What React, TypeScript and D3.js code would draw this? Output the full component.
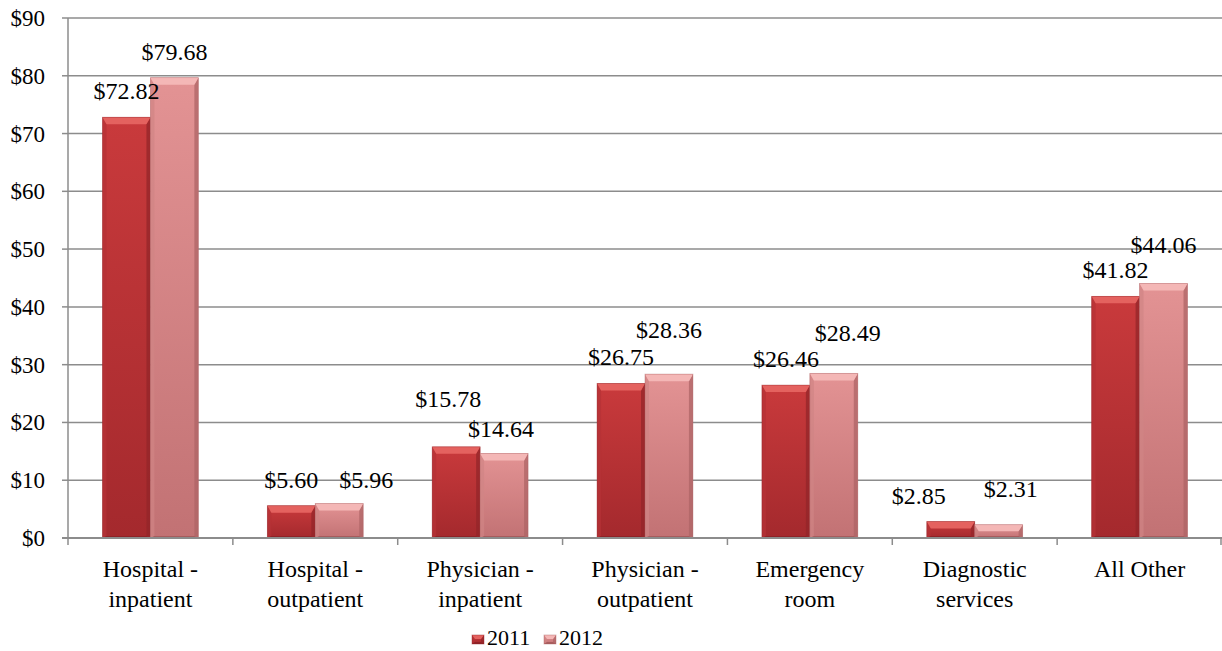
import React from "react";
import * as d3 from "d3";

const categories = [
  ["Hospital -", "inpatient"],
  ["Hospital -", "outpatient"],
  ["Physician -", "inpatient"],
  ["Physician -", "outpatient"],
  ["Emergency", "room"],
  ["Diagnostic", "services"],
  ["All Other"],
];
const series = ["2011", "2012"];
const values2011 = [72.82, 5.6, 15.78, 26.75, 26.46, 2.85, 41.82];
const values2012 = [79.68, 5.96, 14.64, 28.36, 28.49, 2.31, 44.06];
const yTicks = [0, 10, 20, 30, 40, 50, 60, 70, 80, 90];

// small manual label nudges as in the reference (style, not data)
const labelNudge: Record<string, [number, number]> = {
  "2-0": [-8, -22],
  "5-0": [-32, 0],
  "1-1": [27, 2],
  "2-1": [-3, 2],
  "3-1": [0, -18],
  "4-1": [14, -14],
  "5-1": [12, -10],
  "6-1": [0, -12],
};

const W = 1222;
const H = 651;
const left = 68;
const right = 1222;
const top = 18;
const bottom = 538;
const FONT = "Liberation Serif";

const palette = {
  "2011": { top: "#E4625F", faceTop: "#C93A3C", faceBot: "#A4292D", l: "#B53236", r: "#93252A", b: "#8A2024" },
  "2012": { top: "#F4B7B6", faceTop: "#E39394", faceBot: "#C27274", l: "#D08485", r: "#AE6466", b: "#A05658" },
};

export default function App() {
  const keys = categories.map((_, i) => String(i));
  const x0 = d3.scaleBand<string>().domain(keys).range([left, right]).padding(0);
  const x1 = d3
    .scaleBand<string>()
    .domain(series)
    .range([0, x0.bandwidth()])
    .paddingInner(0)
    .paddingOuter(0.72);
  const y = d3.scaleLinear().domain([0, 90]).range([bottom, top]);
  const fmt = (v: number) => "$" + d3.format(".2f")(v);
  const vals: Record<string, number[]> = { "2011": values2011, "2012": values2012 };
  const bev = 7;
  const pts = (arr: number[][]) => arr.map((q) => q.join(",")).join(" ");

  const bevelBox = (key: string, s: string, bx: number, by: number, bw: number, bh: number, b: number, sb: number, grad: string) => {
    const p = (palette as any)[s];
    const x2 = bx + bw;
    const y2 = by + bh;
    return (
      <g key={key}>
        <rect x={bx} y={by} width={bw} height={bh} fill={grad} />
        <polygon points={pts([[bx, by], [bx + sb, by + b], [bx + sb, y2 - 2], [bx, y2]])} fill={p.l} opacity={0.7} />
        <polygon points={pts([[x2, by], [x2 - sb, by + b], [x2 - sb, y2 - 2], [x2, y2]])} fill={p.r} opacity={0.75} />
        <polygon points={pts([[bx, y2], [bx + sb, y2 - 2], [x2 - sb, y2 - 2], [x2, y2]])} fill={p.b} opacity={0.8} />
        <polygon points={pts([[bx, by], [x2, by], [x2 - sb, by + b], [bx + sb, by + b]])} fill={p.top} />
        <rect x={bx} y={by} width={bw} height={bh} fill="none" stroke={p.r} strokeOpacity={0.5} strokeWidth={0.8} />
      </g>
    );
  };

  const bar = (s: string, i: number) => {
    const v = vals[s][i];
    const bx = (x0(String(i)) as number) + (x1(s) as number);
    const bw = x1.bandwidth();
    const by = y(v);
    const bh = bottom - by;
    const b = Math.min(bev, bh / 2, bw / 2);
    return bevelBox(s + i, s, bx, by, bw, bh, b, 4, `url(#face${s})`);
  };

  const label = (s: string, i: number) => {
    const v = vals[s][i];
    const sIdx = series.indexOf(s);
    const nudge = labelNudge[`${i}-${sIdx}`] || [0, 0];
    const cx = (x0(String(i)) as number) + (x1(s) as number) + x1.bandwidth() / 2;
    return (
      <text
        key={"l" + s + i}
        x={cx + nudge[0]}
        y={y(v) - 18 + nudge[1]}
        textAnchor="middle"
        fontSize={24}
        fontFamily={FONT}
        fill="#000"
      >
        {fmt(v)}
      </text>
    );
  };

  return (
    <svg width={W} height={H} style={{ position: "absolute", left: 0, top: 0, background: "#fff" }}>
      <defs>
        {series.map((s) => {
          const p = (palette as any)[s];
          return (
            <linearGradient key={s} id={`face${s}`} x1="0" y1="0" x2="0" y2="1">
              <stop offset="0" stopColor={p.faceTop} />
              <stop offset="1" stopColor={p.faceBot} />
            </linearGradient>
          );
        })}
      </defs>

      {/* gridlines */}
      {yTicks.map((t) => (
        <line key={"g" + t} x1={left} x2={right} y1={y(t)} y2={y(t)} stroke="#8C8C8C" strokeWidth={1.5} />
      ))}
      {/* y axis */}
      <line x1={left} x2={left} y1={top} y2={bottom} stroke="#8C8C8C" strokeWidth={1.5} />
      {yTicks.map((t) => (
        <g key={"yt" + t}>
          <line x1={left - 6} x2={left} y1={y(t)} y2={y(t)} stroke="#8C8C8C" strokeWidth={1.5} />
          <text x={45} y={y(t)} dy="0.35em" textAnchor="end" fontSize={23} fontFamily={FONT} fill="#000">
            {"$" + t}
          </text>
        </g>
      ))}

      {/* bars */}
      {categories.map((_, i) => series.map((s) => bar(s, i)))}

      {/* baseline and category ticks */}
      <line x1={left - 6} x2={right} y1={bottom} y2={bottom} stroke="#8C8C8C" strokeWidth={2} />
      {d3.range(categories.length + 1).map((k) => {
        const xx = k < categories.length ? (x0(String(k)) as number) : right - 1;
        return <line key={"ct" + k} x1={xx} x2={xx} y1={bottom} y2={bottom + 7} stroke="#8C8C8C" strokeWidth={1.5} />;
      })}

      {/* data labels */}
      {categories.map((_, i) => series.map((s) => label(s, i)))}

      {/* category labels */}
      {categories.map((lines, i) => {
        const cx = (x0(String(i)) as number) + x0.bandwidth() / 2;
        return (
          <text key={"c" + i} textAnchor="middle" fontSize={24} fontFamily={FONT} fill="#000">
            {lines.map((ln, j) => (
              <tspan key={j} x={cx} y={577 + j * 30}>
                {ln}
              </tspan>
            ))}
          </text>
        );
      })}

      {/* legend */}
      {series.map((s, k) => {
        const lx = 472 + k * 72;
        return (
          <g key={"lgd" + s}>
            {bevelBox("lb" + s, s, lx, 635, 12, 9, 4, 3, `url(#face${s})`)}
            <text x={lx + 15} y={645} fontSize={22} fontFamily={FONT} fill="#000">
              {s}
            </text>
          </g>
        );
      })}
    </svg>
  );
}
